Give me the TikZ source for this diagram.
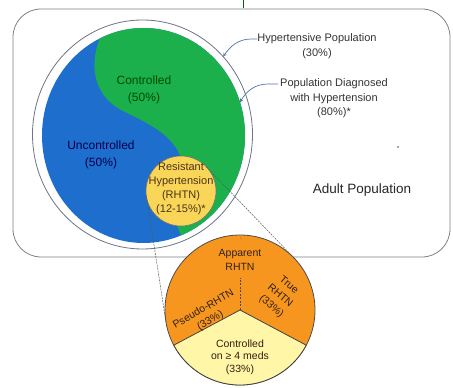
\documentclass[tikz,border=0pt]{standalone}
\usepackage{fontspec}
\setmainfont{Liberation Sans}
\usetikzlibrary{calc, positioning, shapes.geometric}
\usepackage[dvipsnames]{xcolor}

\definecolor{uncblue}{RGB}{30,110,205}
\definecolor{ctrlgreen}{RGB}{28,176,76}
\definecolor{rhtnyellow}{RGB}{249,214,88}
\definecolor{pieorange}{RGB}{247,150,30}
\definecolor{pieyellow}{RGB}{255,246,168}
\definecolor{rimgray}{RGB}{112,116,132}
\definecolor{callblue}{RGB}{80,115,170}

\begin{document}
\begin{tikzpicture}[x=1pt, y=1pt, >=stealth, every node/.style={align=center, inner sep=0, outer sep=0}]
\tikzstyle{popring}=[ellipse, draw=rimgray, line width=0.8pt]
\tikzstyle{outer text}=[text=black!80, font=\fontsize{11}{15}\selectfont]
\tikzstyle{half text}=[font=\fontsize{12}{17}\selectfont]
\tikzstyle{rhtn text}=[text=black!60!brown, font=\fontsize{11}{14}\selectfont]
\tikzstyle{pie text}=[text=black!75!brown, font=\fontsize{10.5}{13.5}\selectfont]
\tikzstyle{callout}=[->, callblue, line width=0.7pt]
\tikzstyle{zoomline}=[black!65, line width=0.5pt, dash pattern=on 2pt off 1pt]

\useasboundingbox (0,0) rectangle (453,388);

% adult population frame
\draw[gray, line width=0.8pt, rounded corners=28pt] (13,131) rectangle (450,379);
\draw[black!60!green, line width=0.8pt] (243,380) -- (243,388);

% hypertensive and diagnosed populations
\node[popring, fill=white, minimum width=220, minimum height=229] (hyp) at (142.5,253.5) {};
\node[ellipse, fill=uncblue, minimum width=203, minimum height=215] (diag) at (143.5,252.5) {};
\begin{scope}
  \clip (diag.center) ellipse [x radius=101.5, y radius=107.5];
  \fill[ctrlgreen] (100,365) -- (100,350) .. controls (88,320) and (95,290) .. (125,276)
    .. controls (150,264) and (178,250) .. (182,225) -- (176,165) -- (186,140)
    -- (260,140) -- (260,365) -- cycle;
\end{scope}

\node[half text, text=black!70!green] (ctrl) at (144,298) {Controlled\\(50\%)};
\node[half text, text=black!70!blue] (unctrl) at (101,233) {Uncontrolled\\(50\%)};

% resistant hypertension
\node[circle, draw=black!55, line width=0.6pt, fill=rhtnyellow, minimum size=70] (rhtn) at (181,197) {};
\node[rhtn text] (rhtnlbl) at ([yshift=2]rhtn.center) {Resistant\\Hypertension\\(RHTN)\\(12-15\%)*};

% breakdown of resistant hypertension
\node[circle, draw=black!70, line width=0.8pt, fill=pieorange, minimum size=150] (pie) at (240,78) {};
\filldraw[draw=black!75, line width=0.8pt, fill=pieyellow] (pie.center) -- ++(-28:75)
  arc[start angle=-28, end angle=-152, radius=75] -- cycle;
\draw[black!70, dash pattern=on 2pt off 1.5pt] (pie.center) -- ++(0,32);
\fill[black!60] (241,150) circle (0.6);

\draw[zoomline] (rhtn.189) -- (pie.189);
\draw[zoomline] (rhtn.44) -- (pie.44);

\node[pie text] (apparent) at (240,128) {Apparent\\RHTN};
\node[pie text, rotate=30] (pseudo) at (207,73) {Pseudo-RHTN\\(33\%)};
\node[pie text, rotate=-40] (truertn) at (280,92) {True\\RHTN\\(33\%)};
\node[pie text, font=\fontsize{10.5}{12.5}\selectfont] (ctrlmeds) at (240,31) {Controlled\\on ≥ 4 meds\\(33\%)};

% labels outside
\node[outer text] (hyplbl) at (317,341.5) {Hypertensive Population\\(30\%)};
\node[outer text, font=\fontsize{11}{14.5}\selectfont] (diaglbl) at (334,289.5) {Population Diagnosed\\with Hypertension\\(80\%)*};
\node[text=black!85, font=\fontsize{13.5}{16}\selectfont] (adult) at (362,198) {Adult Population};
\fill[black!70] (398,241) circle (0.9);

\draw[callout] ([yshift=7.5]hyplbl.west) -- ++(-6,0) to[out=180, in=55] (hyp.44);
\draw[callout] ([yshift=14.5,xshift=-2]diaglbl.west) -- ++(-10,0) to[out=180, in=60] (diag.19);
\end{tikzpicture}
\end{document}
